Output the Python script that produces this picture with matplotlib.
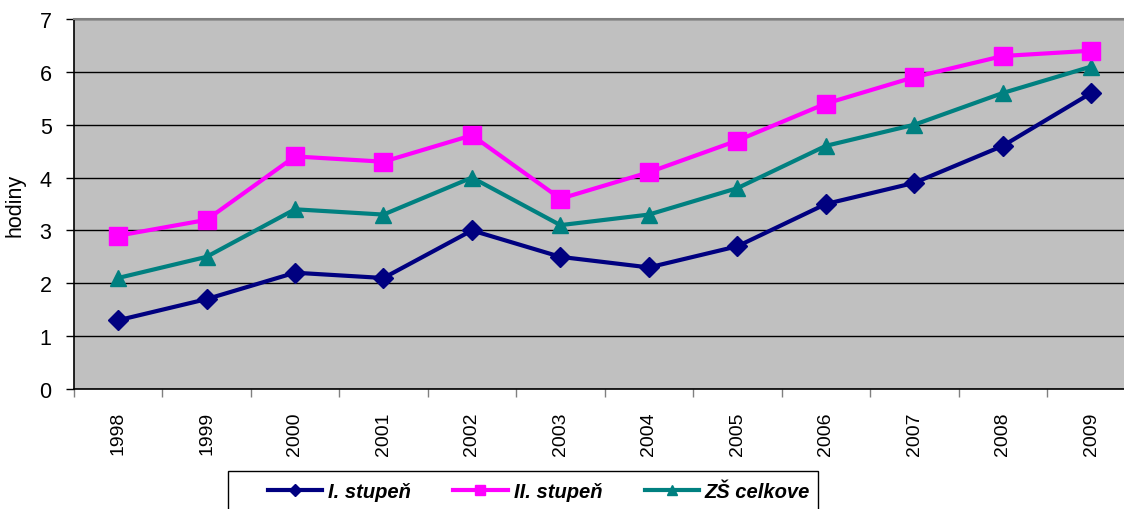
import matplotlib
matplotlib.use("Agg")
import matplotlib.pyplot as plt
from matplotlib.patches import Rectangle

years = ["1998", "1999", "2000", "2001", "2002", "2003", "2004", "2005", "2006", "2007", "2008", "2009"]
stupen1 = [1.3, 1.7, 2.2, 2.1, 3.0, 2.5, 2.3, 2.7, 3.5, 3.9, 4.6, 5.6]
stupen2 = [2.9, 3.2, 4.4, 4.3, 4.8, 3.6, 4.1, 4.7, 5.4, 5.9, 6.3, 6.4]
celkove = [2.1, 2.5, 3.4, 3.3, 4.0, 3.1, 3.3, 3.8, 4.6, 5.0, 5.6, 6.1]
labels = ["I. stupeň", "II. stupeň", "ZŠ celkove"]

plt.rcParams['font.family'] = ['Liberation Sans', 'DejaVu Sans']

W, H = 1124, 510
fig = plt.figure(figsize=(W / 100, H / 100), dpi=100)
left_px, right_px, top_px, bot_px = 73.8, 1135.5, 20, 390
ax = fig.add_axes([left_px / W, 1 - bot_px / H, (right_px - left_px) / W, (bot_px - top_px) / H])
ax.set_facecolor("#C0C0C0")

x = list(range(len(years)))
l1, = ax.plot(x, stupen1, color="#000080", lw=3, marker="D", ms=10, label=labels[0], zorder=5)
l2, = ax.plot(x, stupen2, color="#FF00FF", lw=3, marker="s", ms=13, label=labels[1], zorder=4)
l3, = ax.plot(x, celkove, color="#008080", lw=3, marker="^", ms=11, label=labels[2], zorder=3)

ax.set_xlim(-0.5, len(years) - 0.5)
ax.set_ylim(0, 7)
ax.set_yticks(range(0, 8))
ax.tick_params(axis="y", labelsize=15.5, length=6, width=1, direction="out", colors="#000000", pad=10)
ax.yaxis.grid(True, color="#000000", lw=1)
ax.set_axisbelow(True)

ax.set_xticks(x)
ax.set_xticklabels(years, rotation=90, fontsize=14)
ax.tick_params(axis="x", which="major", length=0, pad=16)
ax.set_xticks([i - 0.5 for i in range(len(years) + 1)], minor=True)
ax.tick_params(axis="x", which="minor", length=6, width=1, color="#808080")

for s in ["left", "bottom"]:
    ax.spines[s].set_color("#000000")
    ax.spines[s].set_linewidth(1.2)
ax.spines["top"].set_color("#808080")
ax.spines["top"].set_linewidth(1.5)
ax.spines["right"].set_visible(False)

ax.set_ylabel("hodiny", fontsize=15.5, labelpad=10)

fig.patches.append(Rectangle((228 / W, -0.05), (818 - 228) / W, 1.05 - 472 / H,
                             transform=fig.transFigure, fill=False, edgecolor="black", lw=1))
leg = fig.legend(handles=[l1, l2, l3], loc="center", bbox_to_anchor=(539 / W, 1 - 493 / H),
                 ncol=3, frameon=False, handlelength=2.7, handletextpad=0.3, columnspacing=2.1,
                 prop={"size": 14.5, "weight": "bold", "style": "italic"}, markerscale=0.6)
for h in leg.legend_handles:
    h.set_linewidth(3)

fig.savefig("out.png", dpi=100)
